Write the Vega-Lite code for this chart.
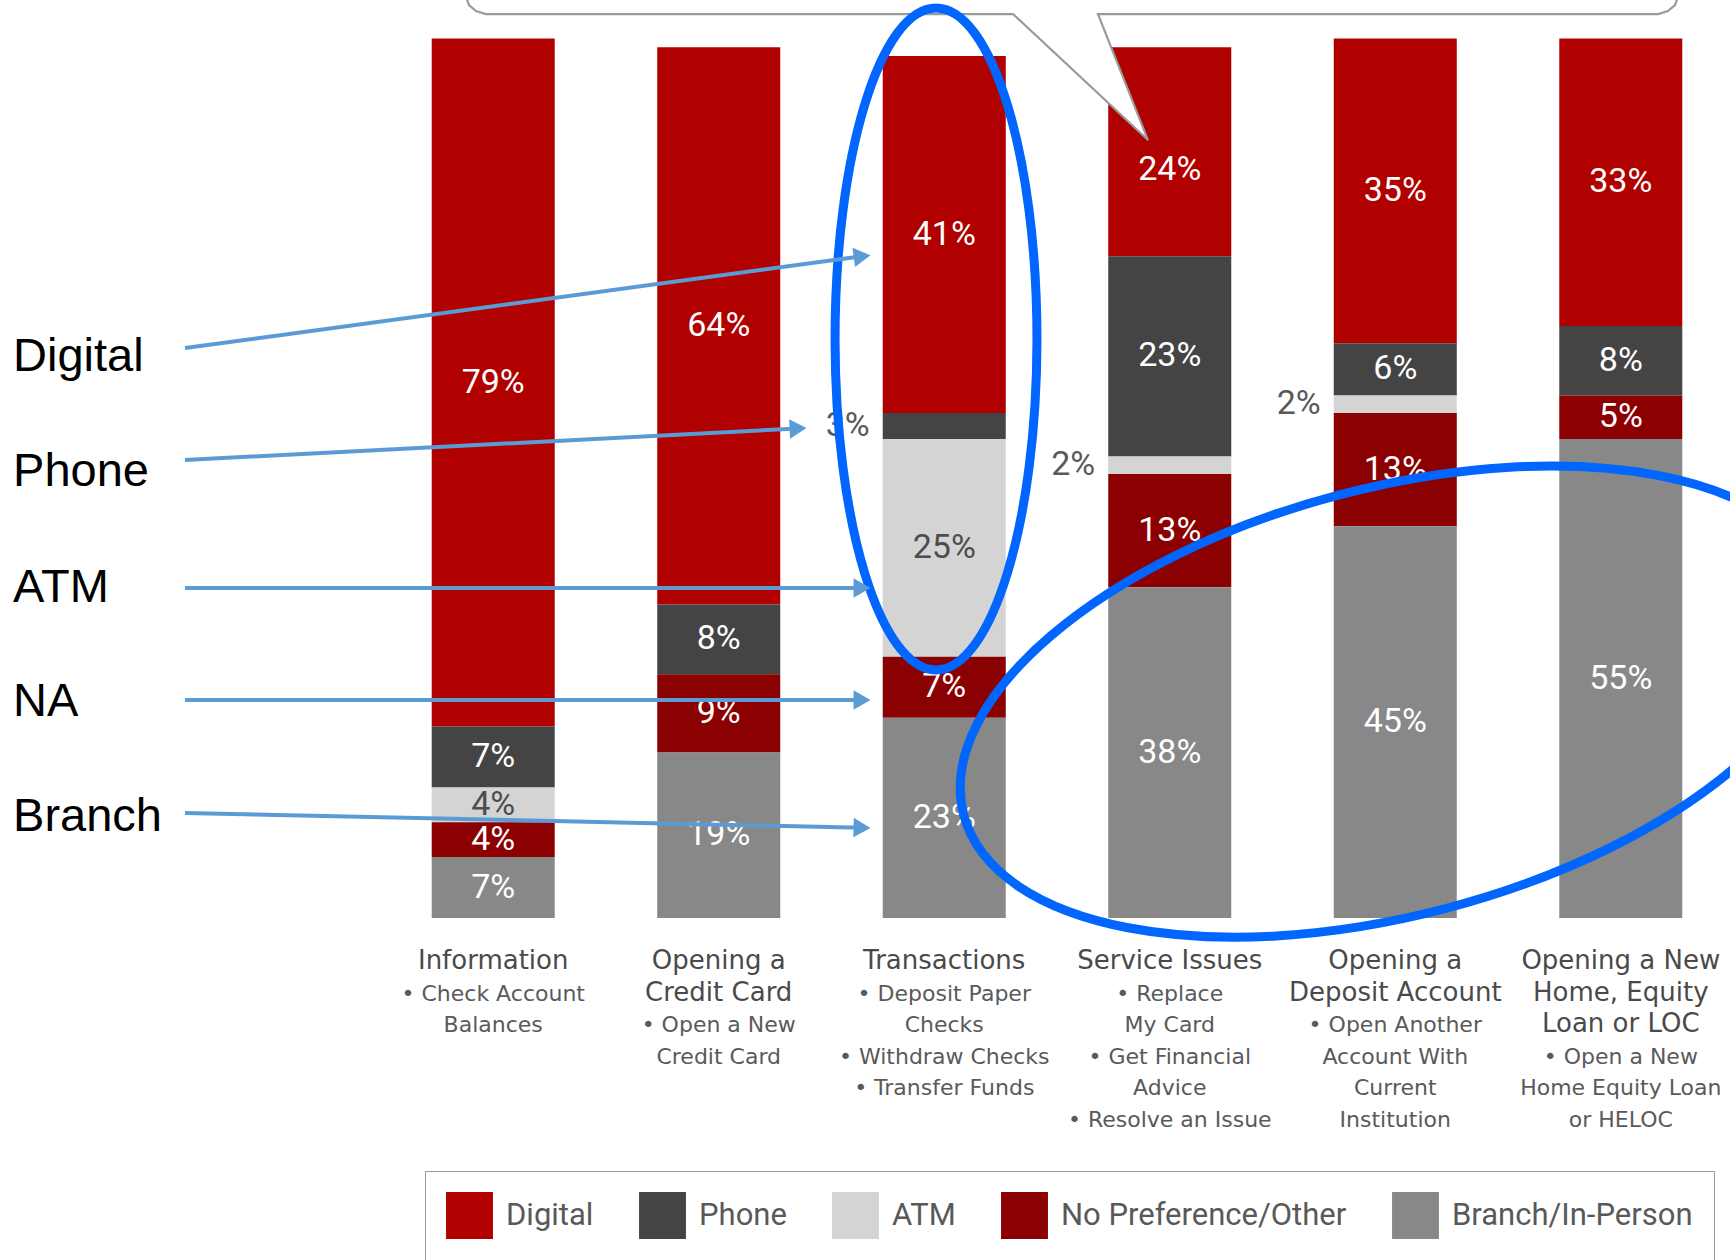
{
  "$schema": "https://vega.github.io/schema/vega-lite/v6.json",
  "width": 1308,
  "height": 879.4,
  "autosize": {"type": "none"},
  "padding": {"left": 403, "top": 38.6, "right": 19, "bottom": 342},
  "background": "white",
  "config": {"view": {"stroke": null}, "font": "Roboto"},
  "datasets": {
    "bars": [
      {"cat": "Information", "ch": "Digital", "k": 5, "v": 79},
      {"cat": "Information", "ch": "Phone", "k": 4, "v": 7},
      {"cat": "Information", "ch": "ATM", "k": 3, "v": 4},
      {"cat": "Information", "ch": "No Preference/Other", "k": 2, "v": 4},
      {"cat": "Information", "ch": "Branch/In-Person", "k": 1, "v": 7},
      {"cat": "Opening a Credit Card", "ch": "Digital", "k": 5, "v": 64},
      {"cat": "Opening a Credit Card", "ch": "Phone", "k": 4, "v": 8},
      {"cat": "Opening a Credit Card", "ch": "No Preference/Other", "k": 2, "v": 9},
      {"cat": "Opening a Credit Card", "ch": "Branch/In-Person", "k": 1, "v": 19},
      {"cat": "Transactions", "ch": "Digital", "k": 5, "v": 41},
      {"cat": "Transactions", "ch": "Phone", "k": 4, "v": 3},
      {"cat": "Transactions", "ch": "ATM", "k": 3, "v": 25},
      {"cat": "Transactions", "ch": "No Preference/Other", "k": 2, "v": 7},
      {"cat": "Transactions", "ch": "Branch/In-Person", "k": 1, "v": 23},
      {"cat": "Service Issues", "ch": "Digital", "k": 5, "v": 24},
      {"cat": "Service Issues", "ch": "Phone", "k": 4, "v": 23},
      {"cat": "Service Issues", "ch": "ATM", "k": 3, "v": 2},
      {"cat": "Service Issues", "ch": "No Preference/Other", "k": 2, "v": 13},
      {"cat": "Service Issues", "ch": "Branch/In-Person", "k": 1, "v": 38},
      {"cat": "Opening a Deposit Account", "ch": "Digital", "k": 5, "v": 35},
      {"cat": "Opening a Deposit Account", "ch": "Phone", "k": 4, "v": 6},
      {"cat": "Opening a Deposit Account", "ch": "ATM", "k": 3, "v": 2},
      {"cat": "Opening a Deposit Account", "ch": "No Preference/Other", "k": 2, "v": 13},
      {"cat": "Opening a Deposit Account", "ch": "Branch/In-Person", "k": 1, "v": 45},
      {"cat": "Opening a New Home, Equity Loan or LOC", "ch": "Digital", "k": 5, "v": 33},
      {"cat": "Opening a New Home, Equity Loan or LOC", "ch": "Phone", "k": 4, "v": 8},
      {"cat": "Opening a New Home, Equity Loan or LOC", "ch": "No Preference/Other", "k": 2, "v": 5},
      {"cat": "Opening a New Home, Equity Loan or LOC", "ch": "Branch/In-Person", "k": 1, "v": 55}
    ],
    "cats": [
      {"cat": "Information", "title": ["Information"], "sub": ["• Check Account", "Balances"]},
      {"cat": "Opening a Credit Card", "title": ["Opening a", "Credit Card"], "sub": ["• Open a New", "Credit Card"]},
      {"cat": "Transactions", "title": ["Transactions"], "sub": ["• Deposit Paper", "Checks", "• Withdraw Checks", "• Transfer Funds"]},
      {"cat": "Service Issues", "title": ["Service Issues"], "sub": ["• Replace", "My Card", "• Get Financial", "Advice", "• Resolve an Issue"]},
      {"cat": "Opening a Deposit Account", "title": ["Opening a", "Deposit Account"], "sub": ["• Open Another", "Account With", "Current", "Institution"]},
      {"cat": "Opening a New Home, Equity Loan or LOC", "title": ["Opening a New", "Home, Equity", "Loan or LOC"], "sub": ["• Open a New", "Home Equity Loan", "or HELOC"]}
    ],
    "sideLabels": [
      {"name": "Digital", "i": -2.129, "v": 62.82},
      {"name": "Phone", "i": -2.129, "v": 49.62},
      {"name": "ATM", "i": -2.129, "v": 36.29},
      {"name": "NA", "i": -2.129, "v": 23.2},
      {"name": "Branch", "i": -2.129, "v": 9.99}
    ],
    "arrows": [
      {"a": "Digital", "s": 0, "i": -1.3666, "v": 65.46},
      {"a": "Digital", "s": 1, "i": 1.6358, "v": 76.0},
      {"a": "Phone", "s": 0, "i": -1.3666, "v": 52.6},
      {"a": "Phone", "s": 1, "i": 1.3516, "v": 56.22},
      {"a": "ATM", "s": 0, "i": -1.3666, "v": 37.9},
      {"a": "ATM", "s": 1, "i": 1.6353, "v": 37.9},
      {"a": "NA", "s": 0, "i": -1.3666, "v": 25.04},
      {"a": "NA", "s": 1, "i": 1.6353, "v": 25.04},
      {"a": "Branch", "s": 0, "i": -1.3666, "v": 12.06},
      {"a": "Branch", "s": 1, "i": 1.6353, "v": 10.36}
    ],
    "heads": [
      {"a": "Digital", "i": 1.6358, "v": 76.0, "ang": -7.7},
      {"a": "Phone", "i": 1.3516, "v": 56.22, "ang": -2.9},
      {"a": "ATM", "i": 1.6353, "v": 37.9, "ang": 0},
      {"a": "NA", "i": 1.6353, "v": 25.04, "ang": 0},
      {"a": "Branch", "i": 1.6353, "v": 10.36, "ang": 1.25}
    ],
    "callout": [
      {"s": 1, "i": -0.1206, "v": 105.78},
      {"s": 2, "i": -0.1073, "v": 104.86},
      {"s": 3, "i": -0.0763, "v": 104.17},
      {"s": 4, "i": -0.0319, "v": 103.82},
      {"s": 5, "i": 2.3049, "v": 103.82},
      {"s": 6, "i": 2.9035, "v": 89.35},
      {"s": 7, "i": 2.6818, "v": 103.82},
      {"s": 8, "i": 5.165, "v": 103.82},
      {"s": 9, "i": 5.2093, "v": 104.17},
      {"s": 10, "i": 5.2403, "v": 104.86},
      {"s": 11, "i": 5.2536, "v": 105.78}
    ],
    "calloutFill": [
      {"i": 2.3049, "v": 103.82, "v2": 103.82},
      {"i": 2.6818, "v": 94.71, "v2": 103.82},
      {"i": 2.9035, "v": 89.35, "v2": 89.35}
    ],
    "ellipses": [
      {"e": "Transactions", "i": 1.9635, "v": 66.5},
      {"e": "In-person", "i": 3.99, "v": 24.86}
    ]
  },
  "resolve": {"scale": {"x": "independent"}},
  "layer": [
    {
      "layer": [
        {
          "data": {"name": "bars"},
          "transform": [
            {"stack": "v", "groupby": ["cat"], "sort": [{"field": "k", "order": "ascending"}], "as": ["v0", "v1"]},
            {"calculate": "(datum.v0 + datum.v1) / 2", "as": "mid"},
            {"calculate": "datum.v + '%'", "as": "lab"}
          ],
          "layer": [
            {
              "mark": {"type": "bar"},
              "encoding": {
                "x": {"field": "cat", "type": "nominal", "sort": null, "axis": null,
                  "scale": {"type": "band", "domain": ["Information", "Opening a Credit Card", "Transactions", "Service Issues", "Opening a Deposit Account", "Opening a New Home, Equity Loan or LOC"], "paddingInner": 0.4545, "paddingOuter": 0.1273}},
                "y": {"field": "v0", "type": "quantitative", "axis": null, "scale": {"domain": [0, 101], "nice": false}},
                "y2": {"field": "v1"},
                "color": {"field": "ch", "type": "nominal",
                  "scale": {"domain": ["Digital", "Phone", "ATM", "No Preference/Other", "Branch/In-Person"], "range": ["#b00000", "#444444", "#d4d4d4", "#8b0000", "#888888"]},
                  "legend": {"orient": "none", "legendX": 22, "legendY": 1132.4, "direction": "horizontal", "title": null,
                    "symbolType": "square", "symbolSize": 2200, "symbolStrokeWidth": 0, "symbolOpacity": 1,
                    "labelFont": "Roboto", "labelFontSize": 31, "labelColor": "#595959", "labelOffset": 13, "labelLimit": 500,
                    "columnPadding": 45, "padding": 21, "strokeColor": "#999999", "fillColor": "white"}}
              }
            },
            {
              "transform": [{"filter": "datum.v > 3 && datum.ch != 'ATM' && !(datum.cat == 'Service Issues' && datum.ch == 'Digital')"}],
              "mark": {"type": "text", "font": "Roboto", "fontSize": 34, "color": "white", "baseline": "middle", "align": "center"},
              "encoding": {
                "x": {"field": "cat", "type": "nominal", "sort": null, "axis": null},
                "y": {"field": "mid", "type": "quantitative", "axis": null, "scale": {"domain": [0, 101], "nice": false}},
                "text": {"field": "lab", "type": "nominal"}
              }
            },
            {
              "transform": [{"filter": "datum.cat == 'Service Issues' && datum.ch == 'Digital'"}],
              "mark": {"type": "text", "font": "Roboto", "fontSize": 34, "color": "white", "baseline": "middle", "align": "center", "dy": 18},
              "encoding": {
                "x": {"field": "cat", "type": "nominal", "sort": null, "axis": null},
                "y": {"field": "mid", "type": "quantitative", "axis": null, "scale": {"domain": [0, 101], "nice": false}},
                "text": {"field": "lab", "type": "nominal"}
              }
            },
            {
              "transform": [{"filter": "datum.v > 3 && datum.ch == 'ATM'"}],
              "mark": {"type": "text", "font": "Roboto", "fontSize": 34, "color": "#4d4d4d", "baseline": "middle", "align": "center"},
              "encoding": {
                "x": {"field": "cat", "type": "nominal", "sort": null, "axis": null},
                "y": {"field": "mid", "type": "quantitative", "axis": null, "scale": {"domain": [0, 101], "nice": false}},
                "text": {"field": "lab", "type": "nominal"}
              }
            },
            {
              "transform": [{"filter": "datum.v <= 3"}],
              "mark": {"type": "text", "font": "Roboto", "fontSize": 34, "color": "#595959", "baseline": "middle", "align": "right", "dx": -13},
              "encoding": {
                "x": {"field": "cat", "type": "nominal", "sort": null, "axis": null, "bandPosition": 0},
                "y": {"field": "mid", "type": "quantitative", "axis": null, "scale": {"domain": [0, 101], "nice": false}},
                "text": {"field": "lab", "type": "nominal"}
              }
            }
          ]
        },
        {
          "data": {"name": "cats"},
          "mark": {"type": "text", "font": "DejaVu Sans", "fontSize": 26, "color": "#4a4a4a", "baseline": "alphabetic", "align": "center", "lineHeight": 31.6},
          "encoding": {
            "x": {"field": "cat", "type": "nominal", "sort": null, "axis": null},
            "y": {"datum": -5.857, "type": "quantitative", "axis": null, "scale": {"domain": [0, 101], "nice": false}},
            "text": {"field": "title", "type": "nominal"}
          }
        },
        {
          "data": {"name": "cats"},
          "transform": [{"filter": "length(datum.title) == 1"}],
          "mark": {"type": "text", "font": "DejaVu Sans", "fontSize": 22, "color": "#5a5a5a", "baseline": "alphabetic", "align": "center", "lineHeight": 31.6},
          "encoding": {
            "x": {"field": "cat", "type": "nominal", "sort": null, "axis": null},
            "y": {"datum": -9.486, "type": "quantitative", "axis": null, "scale": {"domain": [0, 101], "nice": false}},
            "text": {"field": "sub", "type": "nominal"}
          }
        },
        {
          "data": {"name": "cats"},
          "transform": [{"filter": "length(datum.title) == 2"}],
          "mark": {"type": "text", "font": "DejaVu Sans", "fontSize": 22, "color": "#5a5a5a", "baseline": "alphabetic", "align": "center", "lineHeight": 31.6},
          "encoding": {
            "x": {"field": "cat", "type": "nominal", "sort": null, "axis": null},
            "y": {"datum": -13.116, "type": "quantitative", "axis": null, "scale": {"domain": [0, 101], "nice": false}},
            "text": {"field": "sub", "type": "nominal"}
          }
        },
        {
          "data": {"name": "cats"},
          "transform": [{"filter": "length(datum.title) == 3"}],
          "mark": {"type": "text", "font": "DejaVu Sans", "fontSize": 22, "color": "#5a5a5a", "baseline": "alphabetic", "align": "center", "lineHeight": 31.6},
          "encoding": {
            "x": {"field": "cat", "type": "nominal", "sort": null, "axis": null},
            "y": {"datum": -16.745, "type": "quantitative", "axis": null, "scale": {"domain": [0, 101], "nice": false}},
            "text": {"field": "sub", "type": "nominal"}
          }
        }
      ]
    },
    {
      "layer": [
        {
          "data": {"name": "calloutFill"},
          "mark": {"type": "area", "color": "white", "opacity": 1},
          "encoding": {
            "x": {"field": "i", "type": "quantitative", "axis": null, "scale": {"domain": [-0.4, 5.4], "nice": false, "zero": false}},
            "y": {"field": "v", "type": "quantitative", "axis": null, "scale": {"domain": [0, 101], "nice": false}},
            "y2": {"field": "v2"}
          }
        },
        {
          "data": {"name": "callout"},
          "mark": {"type": "line", "color": "#9a9a9a", "strokeWidth": 2.2},
          "encoding": {
            "x": {"field": "i", "type": "quantitative", "axis": null, "scale": {"domain": [-0.4, 5.4], "nice": false, "zero": false}},
            "y": {"field": "v", "type": "quantitative", "axis": null, "scale": {"domain": [0, 101], "nice": false}},
            "order": {"field": "s", "type": "quantitative"}
          }
        },
        {
          "data": {"name": "ellipses"},
          "transform": [{"filter": "datum.e == 'Transactions'"}],
          "mark": {"type": "point", "filled": false, "stroke": "#0066ff", "strokeWidth": 9, "opacity": 1, "size": 438244,
            "shape": "M0.305,0C0.305,0.5523,0.1684,1,0,1C-0.1684,1,-0.305,0.5523,-0.305,0C-0.305,-0.5523,-0.1684,-1,0,-1C0.1684,-1,0.305,-0.5523,0.305,0Z"},
          "encoding": {
            "x": {"field": "i", "type": "quantitative", "axis": null, "scale": {"domain": [-0.4, 5.4], "nice": false, "zero": false}},
            "y": {"field": "v", "type": "quantitative", "axis": null, "scale": {"domain": [0, 101], "nice": false}}
          }
        },
        {
          "data": {"name": "ellipses"},
          "transform": [{"filter": "datum.e == 'In-person'"}],
          "mark": {"type": "point", "filled": false, "stroke": "#0066ff", "strokeWidth": 9, "opacity": 1, "size": 788544, "angle": 345.2,
            "shape": "M1,0C1,0.2656,0.5523,0.4809,0,0.4809C-0.5523,0.4809,-1,0.2656,-1,0C-1,-0.2656,-0.5523,-0.4809,0,-0.4809C0.5523,-0.4809,1,-0.2656,1,0Z"},
          "encoding": {
            "x": {"field": "i", "type": "quantitative", "axis": null, "scale": {"domain": [-0.4, 5.4], "nice": false, "zero": false}},
            "y": {"field": "v", "type": "quantitative", "axis": null, "scale": {"domain": [0, 101], "nice": false}}
          }
        },
        {
          "data": {"name": "arrows"},
          "mark": {"type": "line", "color": "#5b9bd5", "strokeWidth": 4},
          "encoding": {
            "x": {"field": "i", "type": "quantitative", "axis": null, "scale": {"domain": [-0.4, 5.4], "nice": false, "zero": false}},
            "y": {"field": "v", "type": "quantitative", "axis": null, "scale": {"domain": [0, 101], "nice": false}},
            "detail": {"field": "a", "type": "nominal"},
            "order": {"field": "s", "type": "quantitative"}
          }
        },
        {
          "data": {"name": "heads"},
          "mark": {"type": "point", "shape": "triangle-right", "filled": true, "color": "#5b9bd5", "opacity": 1, "size": 380},
          "encoding": {
            "x": {"field": "i", "type": "quantitative", "axis": null, "scale": {"domain": [-0.4, 5.4], "nice": false, "zero": false}},
            "y": {"field": "v", "type": "quantitative", "axis": null, "scale": {"domain": [0, 101], "nice": false}},
            "angle": {"field": "ang", "type": "quantitative", "scale": null}
          }
        },
        {
          "data": {"name": "sideLabels"},
          "mark": {"type": "text", "font": "Liberation Sans", "fontSize": 47, "color": "black", "align": "left", "baseline": "alphabetic"},
          "encoding": {
            "x": {"field": "i", "type": "quantitative", "axis": null, "scale": {"domain": [-0.4, 5.4], "nice": false, "zero": false}},
            "y": {"field": "v", "type": "quantitative", "axis": null, "scale": {"domain": [0, 101], "nice": false}},
            "text": {"field": "name", "type": "nominal"}
          }
        }
      ]
    }
  ]
}
